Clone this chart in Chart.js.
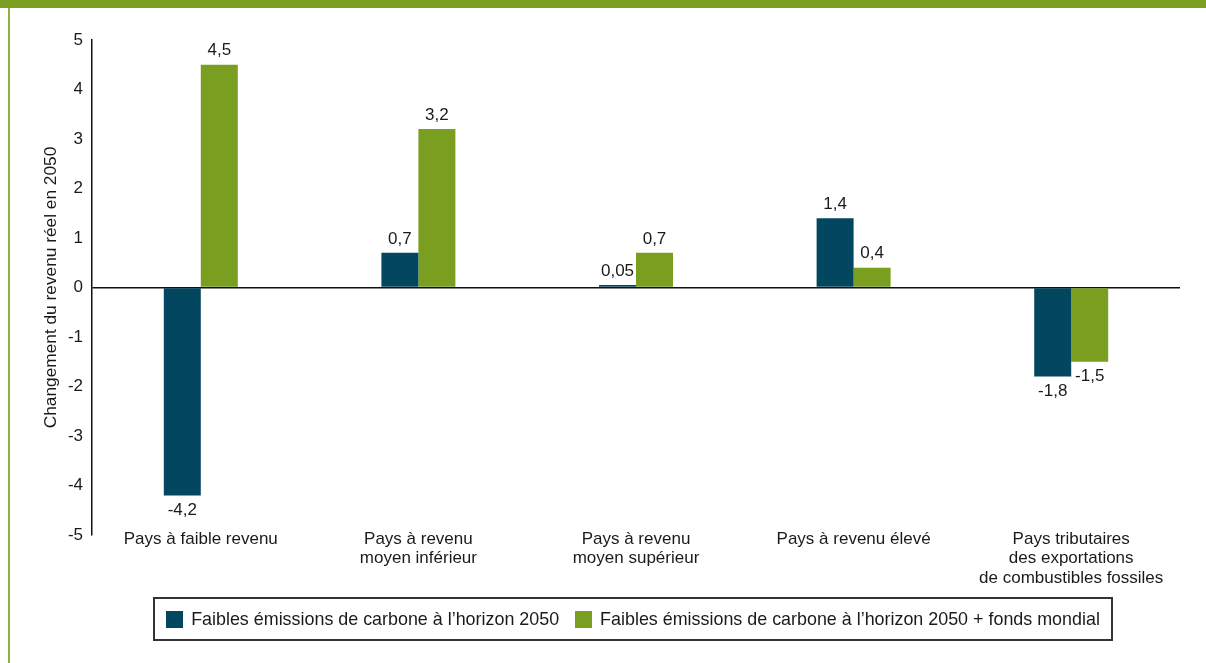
<!DOCTYPE html>
<html>
<head>
<meta charset="utf-8">
<script src="https://cdn.jsdelivr.net/npm/chart.js@4"></script>
<style>
    body { margin: 0; background: #fff; font-family: "Liberation Sans", Arial, sans-serif; }
    #wrap { position: relative; width: 1206px; height: 663px; overflow: hidden; }
    #topbar { position: absolute; left: 0; top: 0; width: 1206px; height: 8px; background: #7a9e1f; }
    #sidebar { position: absolute; left: 8px; top: 8px; width: 2px; height: 655px; background: #8db33a; }
    #chart { position: absolute; left: 0; top: 0; }
    #legend {
        position: absolute; left: 153px; top: 597px; width: 956px; height: 40px;
        border: 2px solid #333; display: flex; align-items: center; justify-content: center;
        font-size: 17.9px; color: #1a1a1a;
    }
    #legend .item { display: flex; align-items: center; margin: 0 8px; }
    #legend .sw { width: 17px; height: 17px; margin-right: 8px; }
</style>
</head>
<body>
<div id="wrap">
    <div id="topbar"></div>
    <div id="sidebar"></div>
    <canvas id="chart" width="1206" height="663"></canvas>
    <div id="legend"></div>
</div>
<script>
const categories = [
    'Pays à faible revenu',
    ['Pays à revenu', 'moyen inférieur'],
    ['Pays à revenu', 'moyen supérieur'],
    'Pays à revenu élevé',
    ['Pays tributaires', 'des exportations', 'de combustibles fossiles']
];
const seriesNames = [
    'Faibles émissions de carbone à l’horizon 2050',
    'Faibles émissions de carbone à l’horizon 2050 + fonds mondial'
];
const lowCarbon = [-4.2, 0.7, 0.05, 1.4, -1.8];
const lowCarbonFund = [4.5, 3.2, 0.7, 0.4, -1.5];
const colors = ['#02475f', '#7a9e1f'];

const fontFamily = '"Liberation Sans", Arial, sans-serif';
const textColor = '#1a1a1a';

// value labels above / below bars
const valueLabels = {
    id: 'valueLabels',
    afterDatasetsDraw(chart) {
        const ctx = chart.ctx;
        ctx.save();
        ctx.font = '17px ' + fontFamily;
        ctx.fillStyle = textColor;
        ctx.textAlign = 'center';
        ctx.textBaseline = 'middle';
        chart.data.datasets.forEach((ds, i) => {
            chart.getDatasetMeta(i).data.forEach((bar, j) => {
                const v = ds.data[j];
                const txt = String(v).replace('.', ',');
                const y = v >= 0 ? bar.y - 14 : bar.y + 15;
                ctx.fillText(txt, bar.x, y);
            });
        });
        ctx.restore();
    }
};

// category labels: they sit slightly above the bottom of the plot, which the
// built-in tick labels can't do (they get clipped to the axis box)
const categoryLabels = {
    id: 'categoryLabels',
    afterDraw(chart) {
        const ctx = chart.ctx;
        const xs = chart.scales.x;
        ctx.save();
        ctx.font = '17px ' + fontFamily;
        ctx.fillStyle = textColor;
        ctx.textAlign = 'center';
        ctx.textBaseline = 'middle';
        chart.data.labels.forEach((lab, i) => {
            const lines = Array.isArray(lab) ? lab : [lab];
            const x = xs.getPixelForTick(i);
            lines.forEach((line, k) => {
                ctx.fillText(line, x, chart.chartArea.bottom + 4 + k * 19.5);
            });
        });
        ctx.restore();
    }
};

const chart = new Chart(document.querySelector('#chart').getContext('2d'), {
    type: 'bar',
    data: {
        labels: categories,
        datasets: [
            { label: seriesNames[0], data: lowCarbon, backgroundColor: colors[0] },
            { label: seriesNames[1], data: lowCarbonFund, backgroundColor: colors[1] }
        ]
    },
    options: {
        responsive: false,
        animation: false,
        categoryPercentage: 0.34,
        barPercentage: 1,
        layout: { padding: { top: 40, left: 40, right: 26, bottom: 0 } },
        plugins: {
            legend: { display: false },
            tooltip: { enabled: false }
        },
        scales: {
            x: {
                border: { display: false },
                grid: { display: false },
                ticks: { display: false },
                afterFit(scale) { scale.height = 128; }
            },
            y: {
                min: -5,
                max: 5,
                border: { display: true, color: '#111', width: 1.5 },
                grid: {
                    drawTicks: false,
                    lineWidth: 1.5,
                    color: c => c.tick && c.tick.value === 0 ? '#111' : 'rgba(0,0,0,0)'
                },
                ticks: {
                    stepSize: 1,
                    padding: 9,
                    color: textColor,
                    font: { family: fontFamily, size: 17 }
                },
                title: {
                    display: true,
                    text: 'Changement du revenu réel en 2050',
                    color: textColor,
                    padding: { top: 1, bottom: 0 },
                    font: { family: fontFamily, size: 17.3 }
                },
                afterFit(scale) { scale.width = 52; }
            }
        }
    },
    plugins: [valueLabels, categoryLabels]
});

// legend box
const legend = document.querySelector('#legend');
chart.data.datasets.forEach(ds => {
    const item = document.createElement('div');
    item.className = 'item';
    item.innerHTML = '<span class="sw" style="background:' + ds.backgroundColor + '"></span><span>' + ds.label + '</span>';
    legend.appendChild(item);
});
</script>
</body>
</html>
